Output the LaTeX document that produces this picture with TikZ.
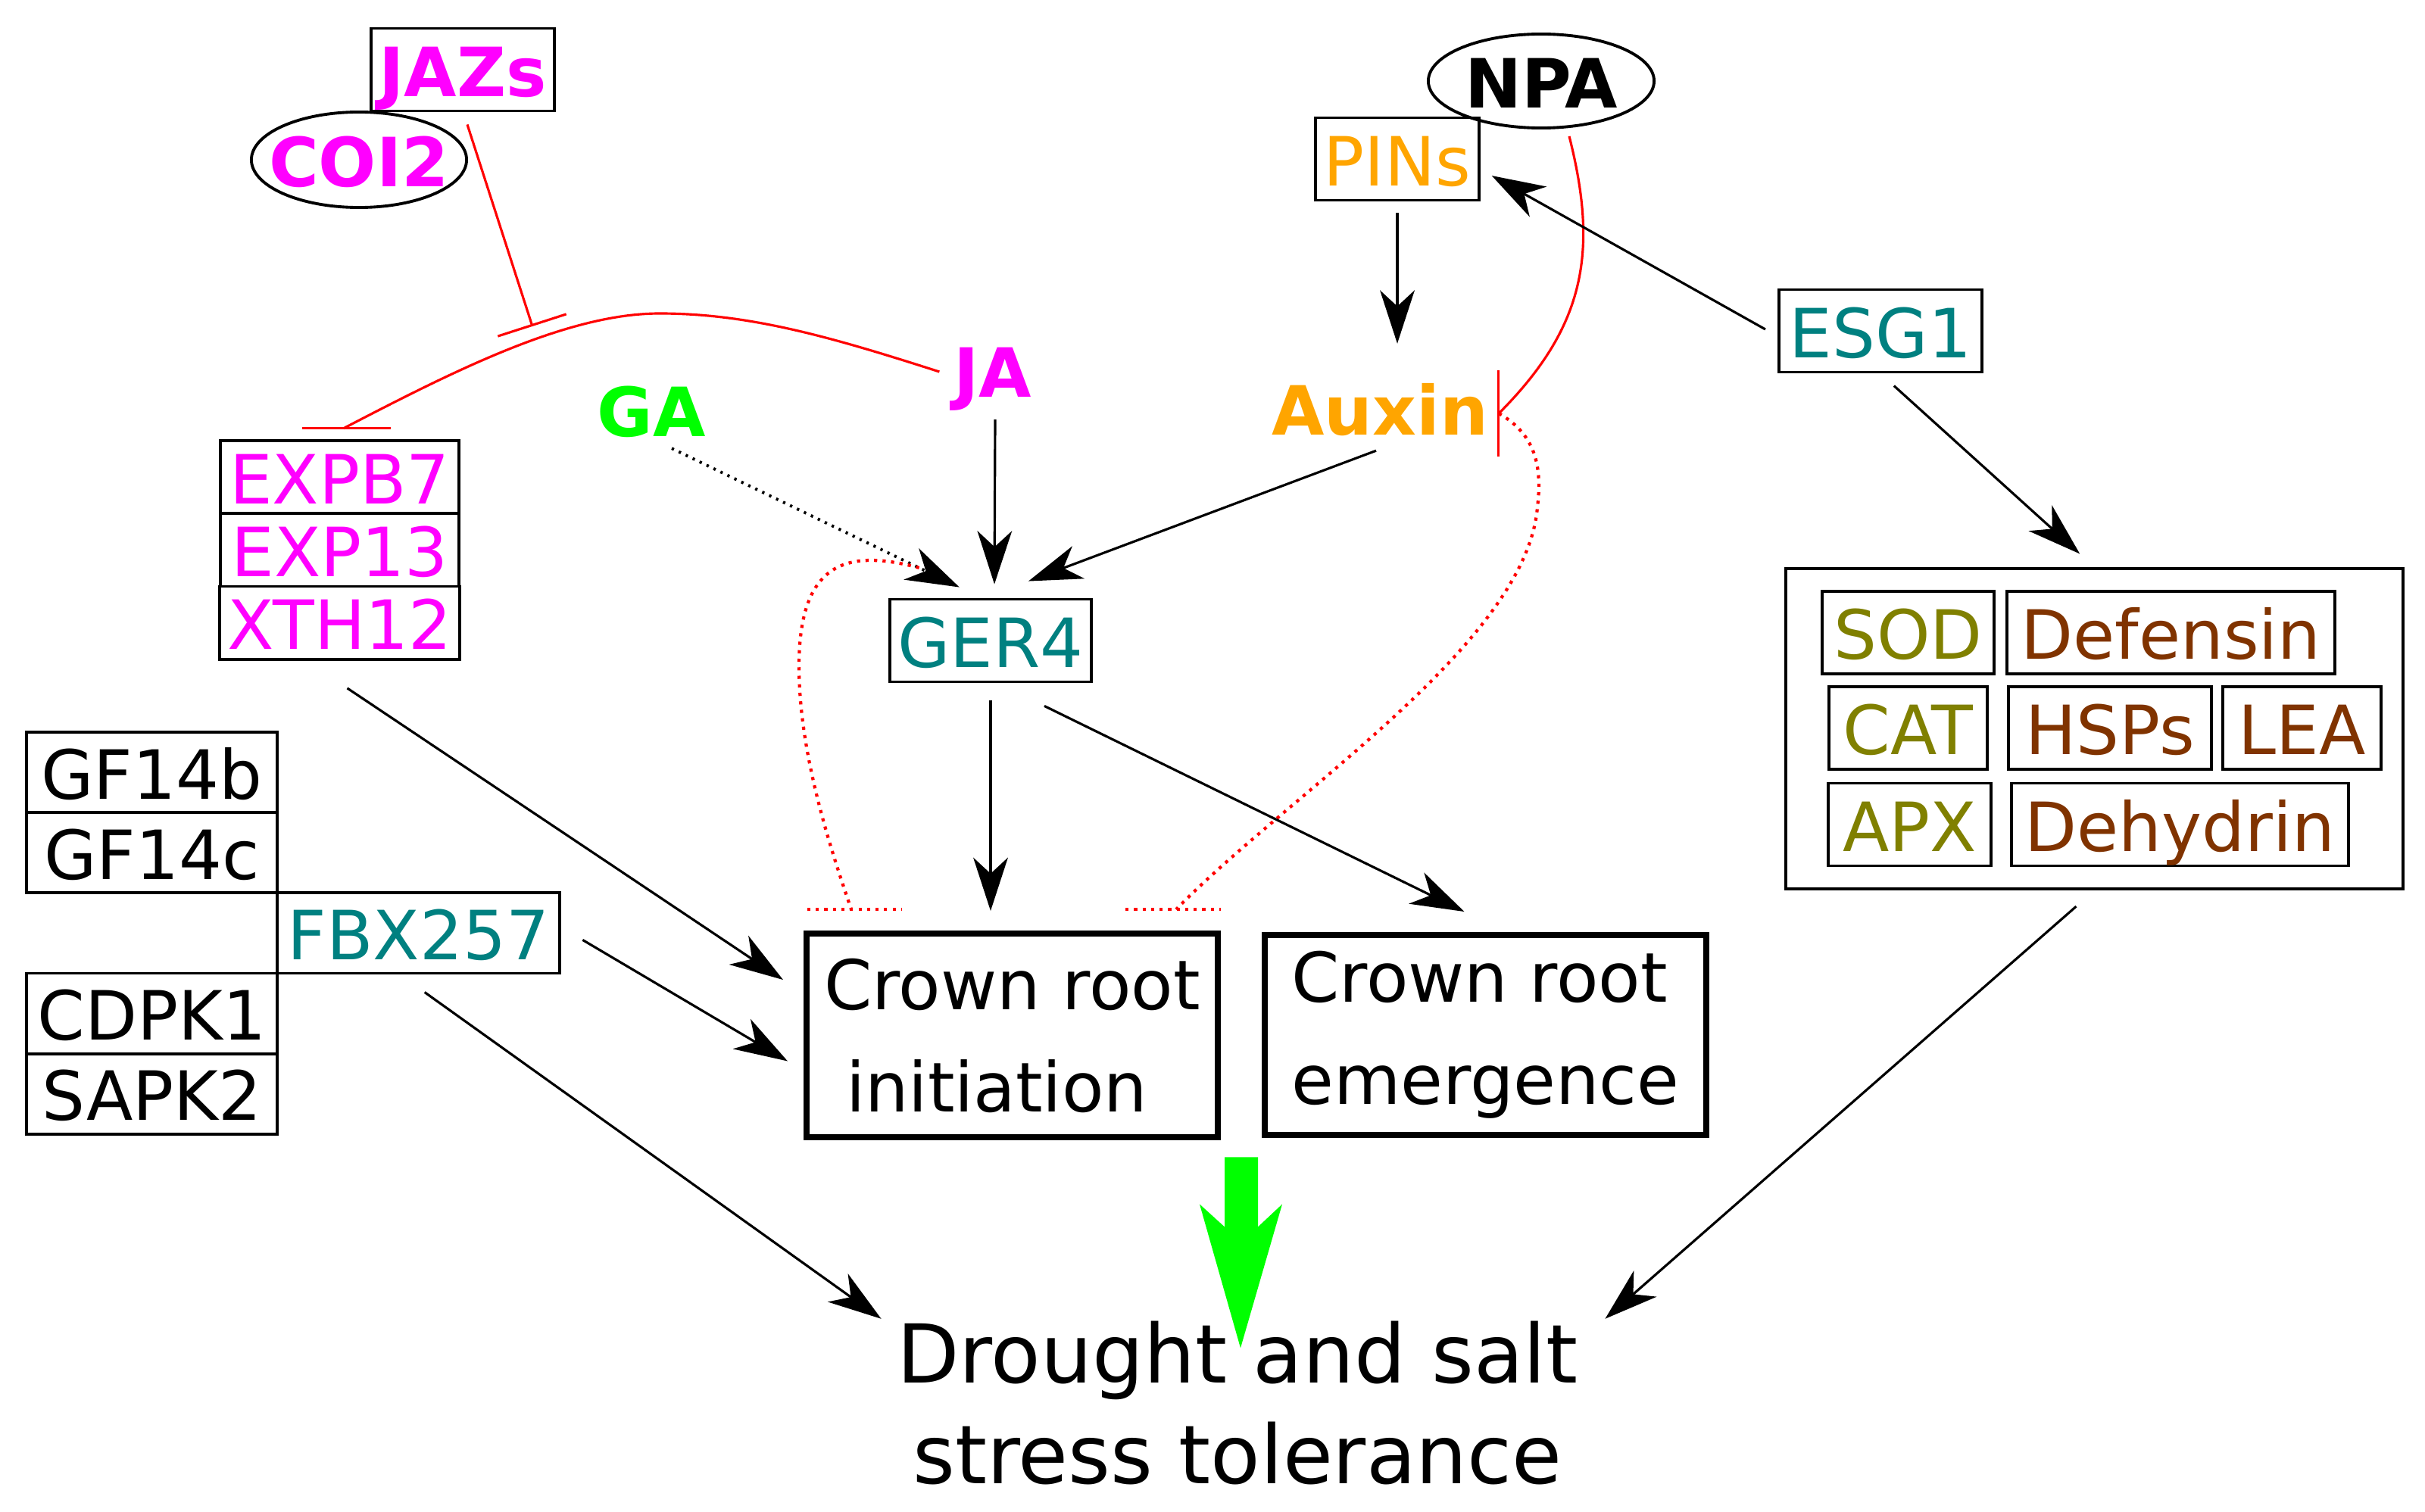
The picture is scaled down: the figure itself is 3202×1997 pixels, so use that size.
\documentclass[tikz,border=0pt]{standalone}
\usepackage{fontspec}
\setmainfont{DejaVu Sans}
\usetikzlibrary{arrows.meta, positioning, calc, shapes.geometric}
\definecolor{magen}{RGB}{255,0,255}
\definecolor{tealc}{RGB}{0,128,128}
\definecolor{orng}{RGB}{255,165,0}
\definecolor{lgreen}{RGB}{0,255,0}
\definecolor{olivec}{RGB}{128,128,0}
\definecolor{brownc}{RGB}{128,51,0}
\newcommand\lblfont{\fontsize{25.5pt}{30pt}\selectfont}
\newcommand\stagefont{\fontsize{25.8pt}{38.4pt}\selectfont}
\newcommand\tolfont{\fontsize{30.5pt}{38.1pt}\selectfont}
\tikzset{
  lbl/.style={font=\lblfont, text height=22.5pt, text depth=2.5pt, inner xsep=3pt, inner ysep=3pt},
  gbox/.style={lbl, draw, line width=1.1pt},
  stk/.style={gbox, inner ysep=1.2pt, outer sep=0pt},
  hormone/.style={lbl, font=\lblfont\bfseries},
  oval/.style={hormone, ellipse, draw, line width=1.1pt, inner xsep=-8pt, inner ysep=-3pt},
  stage/.style={draw, line width=2.2pt, align=left, font=\stagefont, inner sep=0pt},
  arr/.style={line width=0.9pt, -{Stealth[length=20pt, width=13pt, inset=6pt]}},
  inh/.style={red, line width=0.9pt},
  dinh/.style={red, line width=1.2pt, dotted},
}
\begin{document}
\begin{tikzpicture}[x=0.01cm, y=-0.01cm]
\useasboundingbox (0,0) rectangle (3202,1997);
\node (jazs) at (611,92) [gbox, font=\lblfont\bfseries, text=magen] {JAZs};
\node (coi2) at (474,211) [oval, text=magen, minimum width=2.84cm, minimum height=1.26cm] {COI2};
\node (npa) at (2035,107) [oval, minimum width=2.98cm, minimum height=1.24cm] {NPA};
\node (pins) at (1845,210) [gbox, text=orng] {PINs};
\node (esg1) at (2483,437) [gbox, text=tealc, minimum width=2.68cm] {ESG1};
\node (ga) at (860,541) [hormone, text=lgreen] {GA};
\node (ja) at (1311,489) [hormone, text=magen] {JA};
\node (auxin) at (1822,539) [hormone, text=orng] {Auxin};
\node (ger4) at (1308,846) [gbox, text=tealc] {GER4};
\node (expb7) at (448.5,630) [stk, text=magen, minimum width=3.15cm] {EXPB7};
\node (exp13) [stk, text=magen, minimum width=3.15cm, below=0pt of expb7] {EXP13};
\node (xth12) [stk, text=magen, minimum width=3.15cm, below=0pt of exp13] {XTH12};
\node (gf14b) at (200.5,1020) [stk, inner ysep=2.6pt, minimum width=3.31cm] {GF14b};
\node (gf14c) [stk, inner ysep=2.6pt, minimum width=3.31cm, below=0pt of gf14b] {GF14c};
\node (fbx257) at (gf14c.south east) [stk, inner ysep=2.6pt, anchor=north west, text=tealc, minimum width=3.73cm] {FBX257};
\node (cdpk1) at (fbx257.south west) [stk, inner ysep=2.6pt, anchor=north east, minimum width=3.31cm] {CDPK1};
\node (sapk2) [stk, inner ysep=2.6pt, minimum width=3.31cm, below=0pt of cdpk1] {SAPK2};
\node (grp) at (2765.5,962.5) [draw, line width=1.1pt, minimum width=8.15cm, minimum height=4.23cm] {};
\node (sod) at (2519.5,835.5) [gbox, text=olivec, minimum width=2.27cm] {SOD};
\node (defensin) at (2866.5,835.5) [gbox, text=brownc, minimum width=4.33cm] {Defensin};
\node (cat) at (2519.5,961.5) [gbox, text=olivec, minimum width=2.09cm] {CAT};
\node (hsps) at (2786,961.5) [gbox, text=brownc, minimum width=2.68cm] {HSPs};
\node (lea) at (3039.5,961.5) [gbox, text=brownc, minimum width=2.09cm] {LEA};
\node (apx) at (2521.5,1089) [gbox, text=olivec, minimum width=2.15cm] {APX};
\node (dehydrin) at (2878.5,1089) [gbox, text=brownc, minimum width=4.45cm] {Dehydrin};
\node (init) at (1336.5,1367.5) [stage, minimum width=5.43cm, minimum height=2.69cm] {Crown root\\~initiation};
\node (emerg) at (1961.5,1367) [stage, minimum width=5.83cm, minimum height=2.64cm] {Crown root\\emergence};
\node (tol) at (1634,1853) [align=center, font=\tolfont, inner sep=0pt] {Drought and salt\\stress tolerance};
\coordinate (jazsbar) at (703,431);
\coordinate (expbar) at ($(expb7.north)+(5,-16)$);
\coordinate (auxbar) at ($(auxin.east)+(3,7)$);
\coordinate (gtop) at ($(init.south east)!0.5!(emerg.south west)$);
\draw[inh] ($(ja.west)+(-8,2)$) .. controls (1100,446) and (991,414) .. (871,414) .. controls (750,414) and (603,488) .. (expbar);
\draw[inh] ($(expbar)+(-55,0)$) -- ++(117,0);
\draw[inh, -{Bar[width=27pt]}] ($(jazs.south)+(6,16)$) -- (jazsbar);
\draw[inh] ($(npa.south)+(37,9)$) .. controls (2110,330) and (2095,430) .. (auxbar);
\draw[inh] ($(auxin.east)+(2,-50)$) -- ++(0,114);
\draw[arr, dotted, line width=1.1pt] ($(ga.south)+(27,-4)$) -- coordinate[pos=0.86] (gafork) ($(ger4.north west)+(94,-14)$);
\draw[dinh] (gafork) .. controls (1120,725) and (1055,740) .. (1055,880) .. controls (1055,1000) and (1100,1130) .. ($(init.north west)+(63,-28)$);
\draw[dinh] ($(init.north west)+(5,-28)$) -- ++(125,0);
\draw[dinh] (auxbar) .. controls (2030,575) and (2036,620) .. (2030,670) .. controls (2015,850) and (1700,1050) .. ($(init.north east)+(-59,-28)$);
\draw[dinh] ($(init.north east)+(-126,-28)$) -- ++(126,0);
\draw[arr, shorten <=0.15cm, shorten >=0.3cm] (pins.south) -- (pins.south |- auxin.north);
\draw[arr] ($(esg1.west)+(-16,-2)$) -- ($(pins.east)+(15,22)$);
\draw[arr, shorten <=0.24cm, shorten >=0.26cm] (esg1.south) -- (grp.north);
\draw[arr, shorten <=0.32cm] (grp.south) -- ($(tol.north east)+(35,-2)$);
\draw[arr] ($(ja.south)+(3,10)$) -- ($(ger4.north)+(5,-18)$);
\draw[arr] ($(auxin.south)+(-5,1)$) -- ($(ger4.north)+(50,-22)$);
\draw[arr] ($(xth12.south)+(10,38)$) -- ($(init.north west)+(-27,65)$);
\draw[arr] ($(fbx257.east)+(30,9)$) -- ($(init.west)+(-21,34)$);
\draw[arr] ($(fbx257.south)+(8,25)$) -- ($(tol.north west)+(-20,-2)$);
\draw[arr, shorten <=0.23cm, shorten >=0.26cm] (ger4.south) -- (ger4.south |- init.north);
\draw[arr] ($(ger4.south)+(71,30)$) -- ($(emerg.north)+(-28,-27)$);
\fill[lgreen] ($(gtop)+(-22,24)$) -- ++(44,0) -- ++(0,92) -- ++(32,-30) -- ++(-55,190) -- ++(-54,-190) -- ++(33,30) -- cycle;
\end{tikzpicture}
\end{document}
